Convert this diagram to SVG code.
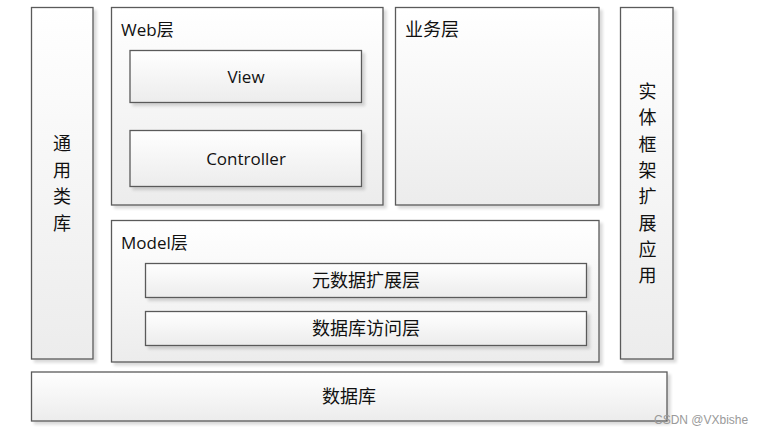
<svg xmlns="http://www.w3.org/2000/svg" width="762" height="432" viewBox="0 0 762 432">
<defs>
<linearGradient id="g" x1="0" y1="0" x2="0" y2="1">
<stop offset="0" stop-color="#ffffff"/>
<stop offset="1" stop-color="#ececec"/>
</linearGradient>
<filter id="sh" x="-10%" y="-10%" width="130%" height="130%">
<feOffset dx="3" dy="3" in="SourceAlpha" result="o"/>
<feGaussianBlur in="o" stdDeviation="1.5" result="b"/>
<feComponentTransfer in="b" result="c"><feFuncA type="linear" slope="0.15"/></feComponentTransfer>
<feMerge><feMergeNode in="c"/><feMergeNode in="SourceGraphic"/></feMerge>
</filter>
</defs>
<style>
.b{fill:url(#g);stroke:#5a5a5a;stroke-width:1.3;filter:url(#sh)}
.t{font-family:"Open Sans","Noto Sans CJK SC",sans-serif;font-size:17px;fill:#111}
.c{font-family:"Noto Sans CJK SC",sans-serif;font-size:18px;fill:#111}
.m{text-anchor:middle}
</style>
<rect width="762" height="432" fill="#fff"/>
<g id="common">
<rect class="b" x="31.5" y="7.5" width="61.5" height="351.5"/>
<text class="c m" x="62" y="150">通</text>
<text class="c m" x="62" y="177">用</text>
<text class="c m" x="62" y="203">类</text>
<text class="c m" x="62" y="230">库</text>
</g>
<g id="web">
<rect class="b" x="111.5" y="7.5" width="271.5" height="197.5"/>
<text class="t" x="121" y="36">Web层</text>
</g>
<g id="view">
<rect class="b" x="130" y="50.5" width="231.5" height="52"/>
<text class="t m" x="246" y="83">View</text>
</g>
<g id="controller">
<rect class="b" x="130" y="130.5" width="231.5" height="56"/>
<text class="t m" x="246" y="165">Controller</text>
</g>
<g id="business">
<rect class="b" x="395.5" y="7.5" width="203.5" height="197.5"/>
<text class="c" x="405" y="36">业务层</text>
</g>
<g id="entity">
<rect class="b" x="620.5" y="7.5" width="52.5" height="351.5"/>
<text class="c m" x="647.5" y="98">实</text>
<text class="c m" x="647.5" y="124">体</text>
<text class="c m" x="647.5" y="151">框</text>
<text class="c m" x="647.5" y="177">架</text>
<text class="c m" x="647.5" y="203">扩</text>
<text class="c m" x="647.5" y="230">展</text>
<text class="c m" x="647.5" y="256">应</text>
<text class="c m" x="647.5" y="282">用</text>
</g>
<g id="model">
<rect class="b" x="111.5" y="220.5" width="487.5" height="141.5"/>
<text class="t" x="121" y="249">Model层</text>
</g>
<g id="meta">
<rect class="b" x="145.5" y="263.5" width="441" height="34"/>
<text class="c m" x="366" y="287">元数据扩展层</text>
</g>
<g id="dal">
<rect class="b" x="145.5" y="311.5" width="441" height="34"/>
<text class="c m" x="366" y="335">数据库访问层</text>
</g>
<g id="db">
<rect class="b" x="31.5" y="372" width="635.5" height="49"/>
<text class="c m" x="349" y="403">数据库</text>
</g>
<g id="connectors"></g>
<text x="654" y="424" style="font-family:'Liberation Sans',sans-serif;font-size:12px;fill:#9a9a9a">CSDN @VXbishe</text>
</svg>
